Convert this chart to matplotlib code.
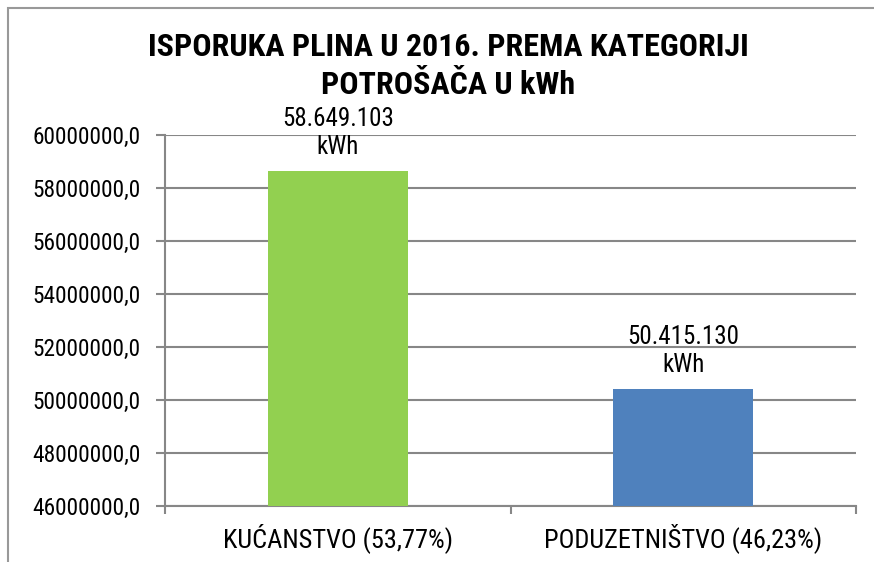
import matplotlib
matplotlib.use("Agg")
import matplotlib.pyplot as plt
from matplotlib.patches import Rectangle

FONT = ["Roboto Condensed", "Liberation Sans"]

categories = ["KUĆANSTVO (53,77%)", "PODUZETNIŠTVO (46,23%)"]
values = [58649103, 50415130]
value_labels = ["58.649.103\nkWh", "50.415.130\nkWh"]
colors = ["#92D050", "#4F81BD"]
yticks = [46000000, 48000000, 50000000, 52000000, 54000000, 56000000, 58000000, 60000000]
title = "ISPORUKA PLINA U 2016. PREMA KATEGORIJI\nPOTROŠAČA U kWh"

fig = plt.figure(figsize=(8.74, 5.62), dpi=100)
fig.patches.append(Rectangle((8/874, -0.1), 1.2, 1 - 8/562 + 0.1, transform=fig.transFigure,
                             fill=False, edgecolor="#999999", linewidth=1.5))
ax = fig.add_axes([165/874, 1 - 506/562, (856 - 165)/874, (506 - 135)/562])

x = list(range(len(categories)))
ax.bar(x, [v - yticks[0] for v in values], bottom=yticks[0], width=0.405, color=colors, zorder=3)
ax.set_xlim(-0.5, len(categories) - 0.5)
ax.set_ylim(yticks[0], yticks[-1])
ax.set_yticks(yticks)
ax.set_yticklabels([f"{t},0" for t in yticks], fontsize=16.8, family=FONT)
ax.yaxis.grid(True, color="#878787", linewidth=1.5, zorder=0)
ax.set_xticks([-0.5, 0.5, 1.5])
ax.set_xticklabels([])
ax.set_xticks(x, minor=True)
ax.set_xticklabels(categories, minor=True, fontsize=19, family=FONT)
ax.tick_params(axis="x", which="minor", length=0, pad=12)
ax.tick_params(axis="x", which="major", length=6, width=1.5, color="#878787")
ax.tick_params(axis="y", length=6.5, width=1.5, color="#878787", pad=11)
for s in ["top", "right"]:
    ax.spines[s].set_visible(False)
for s in ["left", "bottom"]:
    ax.spines[s].set_color("#878787")
    ax.spines[s].set_linewidth(1.5)

for xi, v, lab in zip(x, values, value_labels):
    ax.annotate(lab, (xi, v), xytext=(0, 8.5), textcoords="offset points", ha="center", va="bottom",
                fontsize=18, family=FONT, linespacing=1.22, annotation_clip=False)

fig.text(448/874, 1 - 66/562, title, ha="center", va="center", fontsize=23, fontweight="bold",
         family=FONT, linespacing=1.3)

fig.savefig("out.png", dpi=100)
